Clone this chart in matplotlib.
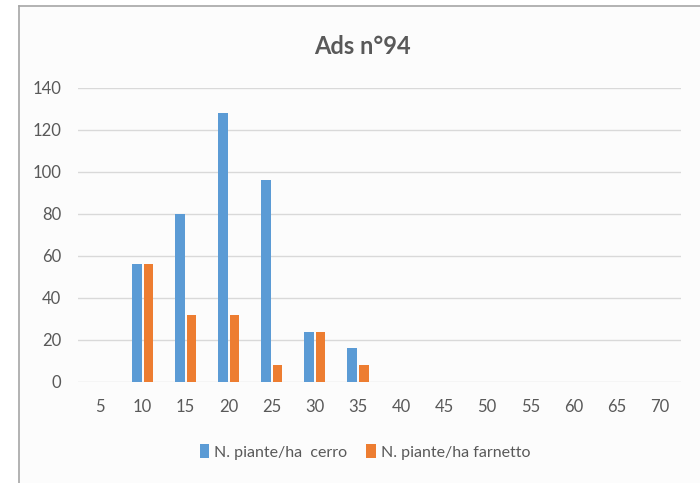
import matplotlib.pyplot as plt
from matplotlib.lines import Line2D
import numpy as np

plt.rcParams['font.family'] = ['Lato', 'DejaVu Sans']

categories = ['5', '10', '15', '20', '25', '30', '35', '40', '45', '50', '55', '60', '65', '70']
cerro = [0, 56, 80, 128, 96, 24, 16, 0, 0, 0, 0, 0, 0, 0]
farnetto = [0, 56, 32, 32, 8, 24, 8, 0, 0, 0, 0, 0, 0, 0]
series_names = ['N. piante/ha  cerro', 'N. piante/ha farnetto']

W, H = 700, 483
fig = plt.figure(figsize=(W / 100, H / 100), dpi=100)
fig.patch.set_facecolor('white')

# chart frame (screenshot border)
bg = plt.Rectangle((19 / W, 0), 1 - 19 / W, 1 - 6 / H, transform=fig.transFigure,
                   facecolor='#fcfcfc', edgecolor='none', zorder=-10)
fig.patches.append(bg)
fig.add_artist(Line2D([19 / W, 1], [1 - 6 / H, 1 - 6 / H], color='#a6a6a6', lw=1.2))
fig.add_artist(Line2D([19 / W, 19 / W], [0, 1 - 6 / H], color='#a6a6a6', lw=1.2))

ax = fig.add_axes([78 / W, 1 - 382 / H, (681 - 78) / W, (382 - 88) / H])
ax.set_facecolor('none')

x = np.arange(len(categories))
bw = 0.22
ax.bar(x - bw / 2 - 0.025, cerro, width=bw, color='#5B9BD5', label=series_names[0], zorder=3)
ax.bar(x + bw / 2 + 0.025, farnetto, width=bw, color='#ED7D31', label=series_names[1], zorder=3)

ax.set_xlim(-0.5, len(categories) - 0.5)
ax.set_ylim(0, 140)
ax.set_yticks(np.arange(0, 141, 20))
ax.set_xticks(x)
ax.set_xticklabels(categories)
ax.grid(axis='y', color='#d9d9d9', lw=1, zorder=0)
for s in ax.spines.values():
    s.set_visible(False)
ax.tick_params(axis='both', length=0, labelsize=12, labelcolor='#595959')
ax.tick_params(axis='x', pad=12)
ax.tick_params(axis='y', pad=12)

fig.text(362 / W, 1 - 46 / H, 'Ads n°94', ha='center', va='center',
         fontsize=17, fontweight='bold', color='#595959')

ax.legend(loc='center', bbox_to_anchor=(365 / W, 1 - 452 / H), bbox_transform=fig.transFigure,
          ncol=2, frameon=False, fontsize=11.5, labelcolor='#595959',
          handlelength=0.6, handleheight=0.9, handletextpad=0.3, columnspacing=1.2)

fig.savefig('out.png', dpi=100)
